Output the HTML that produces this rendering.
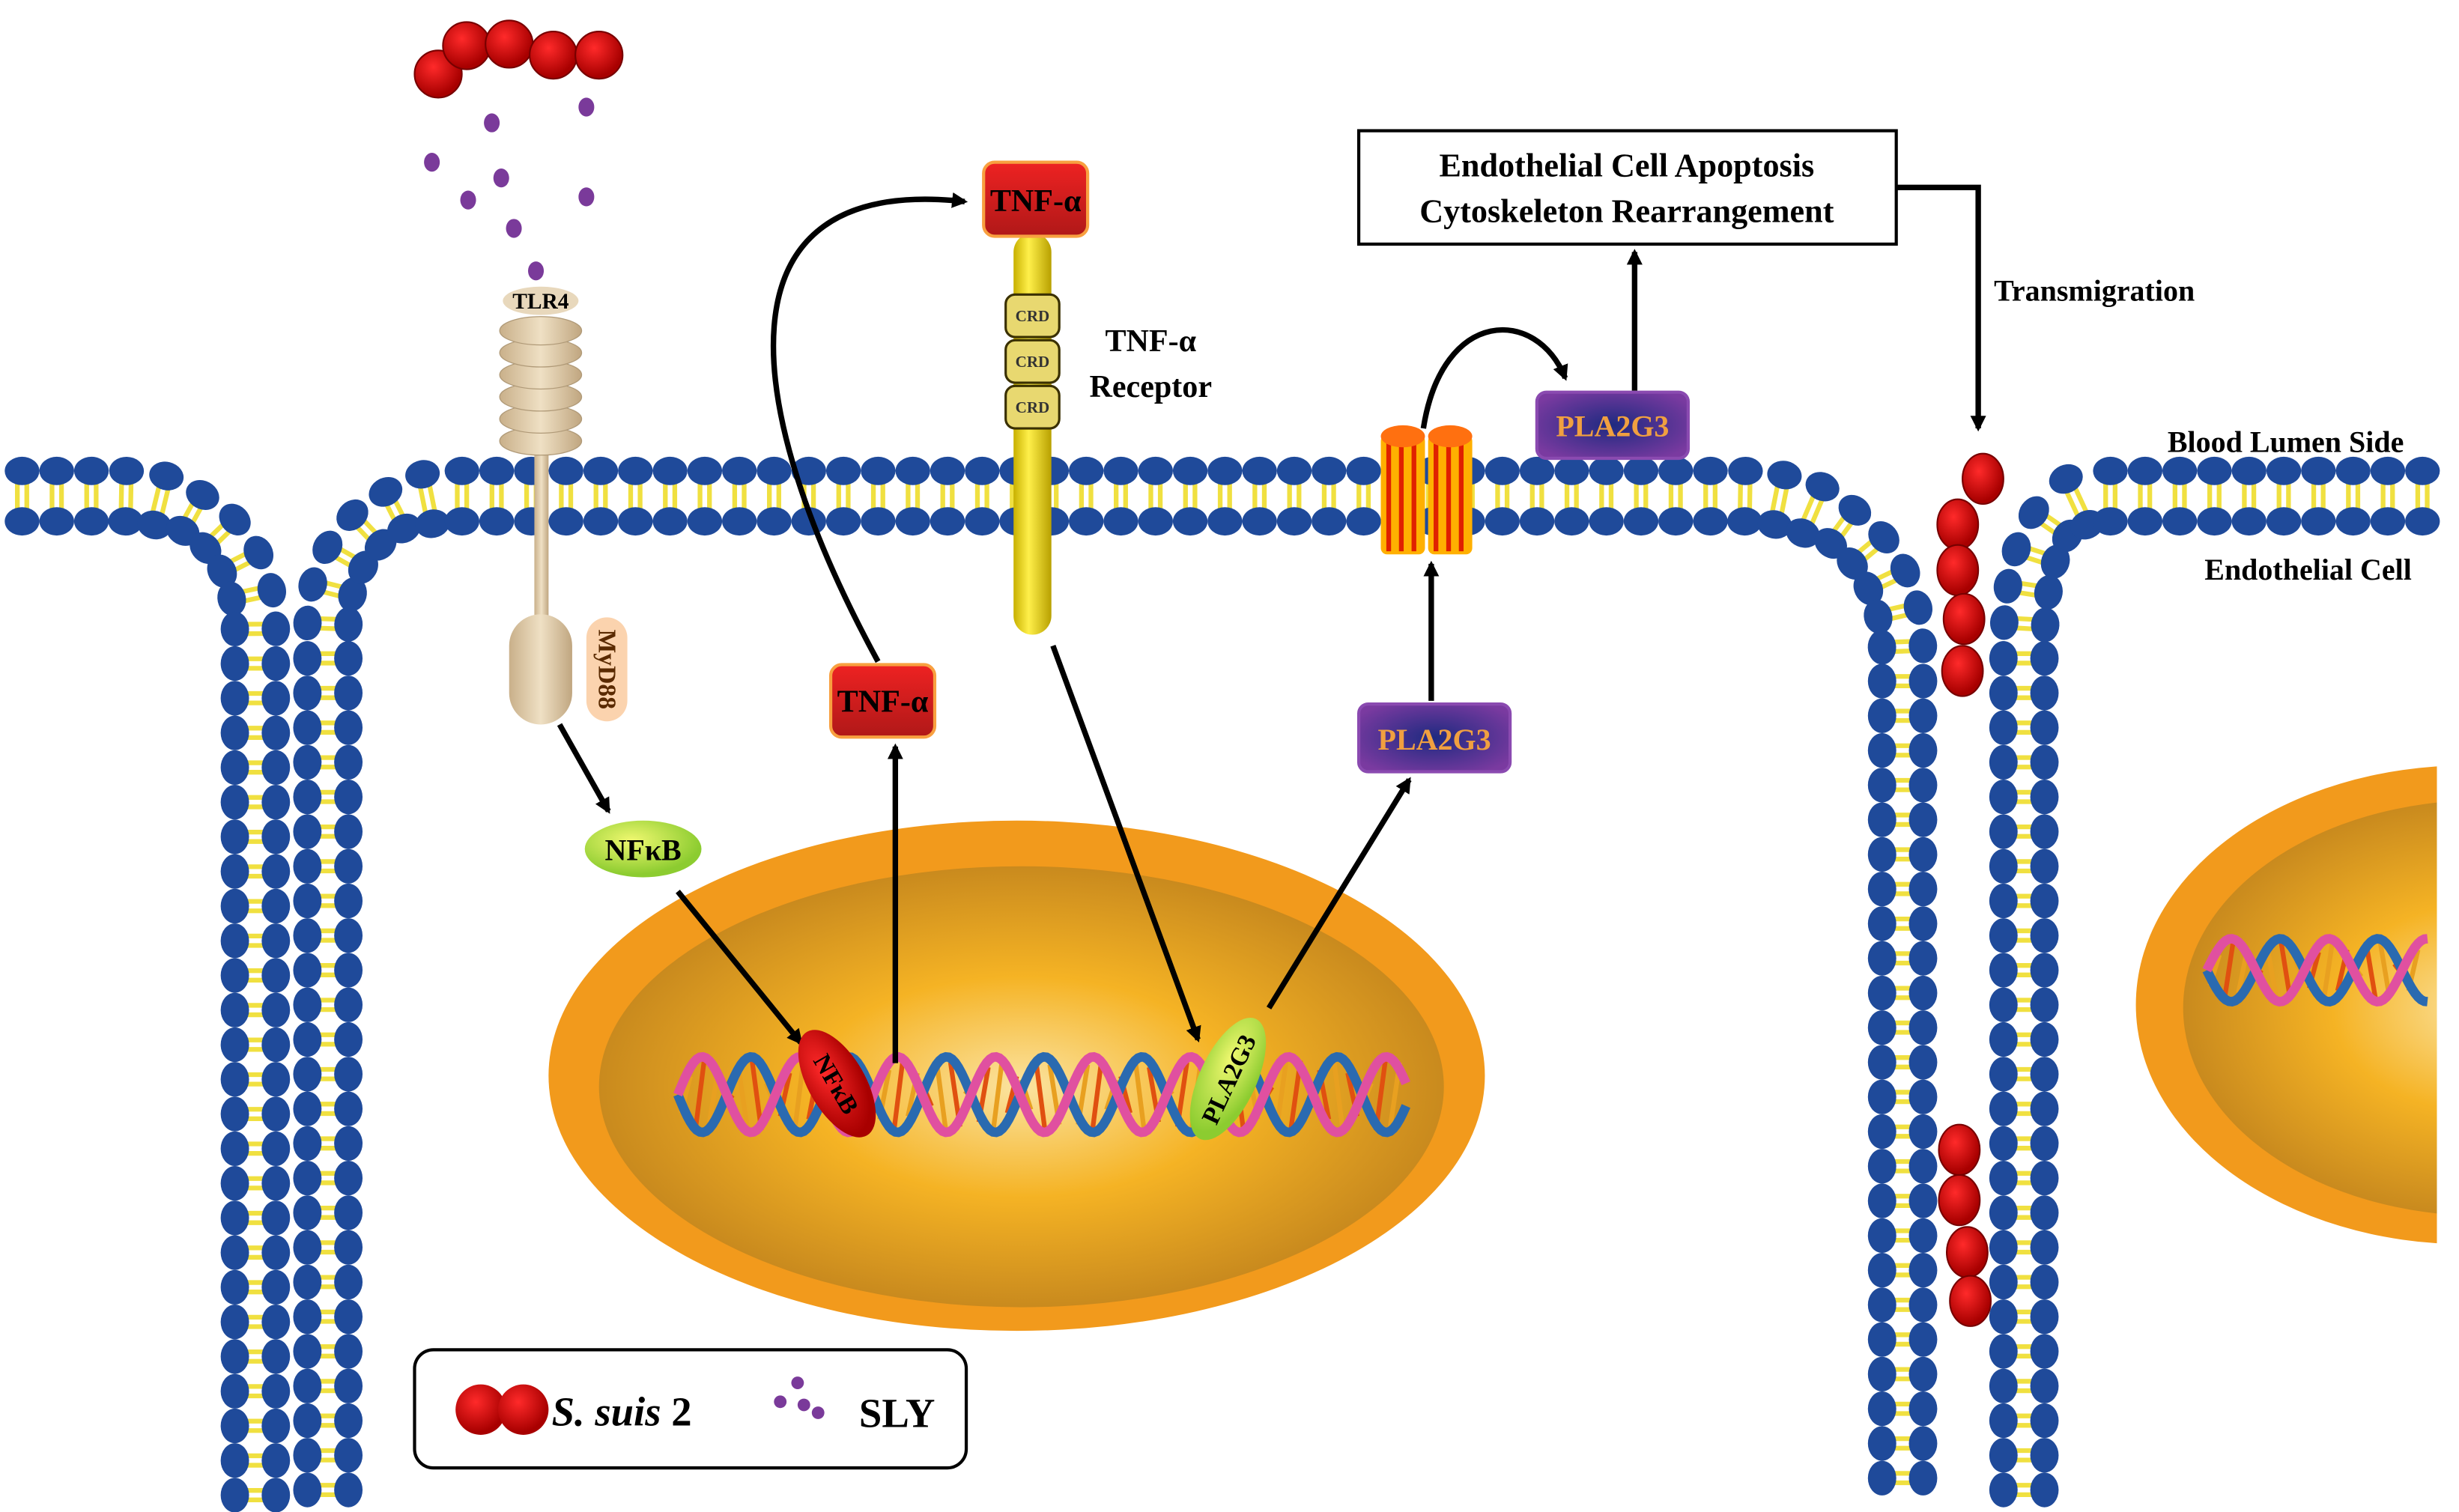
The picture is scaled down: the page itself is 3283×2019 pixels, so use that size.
<!DOCTYPE html>
<html><head><meta charset="utf-8">
<style>
html,body{margin:0;padding:0;background:#fff;}
svg{display:block;}
text{font-family:"Liberation Serif",serif;font-weight:bold;}
</style></head>
<body>
<svg id="s" width="3283" height="2019" viewBox="0 0 1560 960" preserveAspectRatio="none" xmlns="http://www.w3.org/2000/svg">
<defs>
<radialGradient id="nuc" cx="50%" cy="50%" r="50%">
<stop offset="0" stop-color="#fbe3a0"/><stop offset="0.5" stop-color="#f5b324"/><stop offset="1" stop-color="#c98a1e"/>
</radialGradient>
<radialGradient id="red" cx="40%" cy="35%" r="60%"><stop offset="0" stop-color="#ff2a2a"/><stop offset="1" stop-color="#a80000"/></radialGradient>
<radialGradient id="grn" cx="40%" cy="35%" r="60%"><stop offset="0" stop-color="#f0f870"/><stop offset="1" stop-color="#8ccc30"/></radialGradient>
<radialGradient id="pur" cx="50%" cy="50%" r="60%"><stop offset="0" stop-color="#1e2a80"/><stop offset="1" stop-color="#7a3aa0"/></radialGradient>
<linearGradient id="tnf" x1="0" y1="0" x2="0" y2="1"><stop offset="0" stop-color="#ee2222"/><stop offset="1" stop-color="#b01818"/></linearGradient>
<linearGradient id="rod" x1="0" y1="0" x2="1" y2="0"><stop offset="0" stop-color="#c8b000"/><stop offset="0.4" stop-color="#fff04a"/><stop offset="1" stop-color="#b8a000"/></linearGradient>
<linearGradient id="tan" x1="0" y1="0" x2="1" y2="0"><stop offset="0" stop-color="#c9b08a"/><stop offset="0.5" stop-color="#efe0c4"/><stop offset="1" stop-color="#c0a680"/></linearGradient>
<marker id="ah" markerWidth="10" markerHeight="10" refX="8" refY="5" orient="auto" markerUnits="userSpaceOnUse" viewBox="0 0 10 10"><path d="M0,0 L10,5 L0,10 Z" fill="#000"/></marker>
<clipPath id="cr"><rect x="0" y="0" width="1546" height="960"/></clipPath>
</defs>
<g id="mem"></g>

<!-- nuclei -->
<ellipse cx="645" cy="683" rx="297" ry="162" fill="#f29a1c"/>
<ellipse cx="648" cy="690" rx="268" ry="140" fill="url(#nuc)"/>
<g clip-path="url(#cr)">
<ellipse cx="1565" cy="638" rx="210" ry="152" fill="#f29a1c"/>
<ellipse cx="1575" cy="640" rx="190" ry="132" fill="url(#nuc)"/>
</g>
<g id="dna"></g>

<!-- bacteria top -->
<g fill="url(#red)" stroke="#700" stroke-width="1">
<circle cx="278" cy="47" r="15"/><circle cx="296" cy="29" r="15"/><circle cx="323" cy="28" r="15"/><circle cx="351" cy="35" r="15"/><circle cx="380" cy="35" r="15"/>
</g>
<g fill="#7a3a9a">
<ellipse cx="312" cy="78" rx="5" ry="6"/><ellipse cx="372" cy="68" rx="5" ry="6"/><ellipse cx="274" cy="103" rx="5" ry="6"/><ellipse cx="318" cy="113" rx="5" ry="6"/><ellipse cx="297" cy="127" rx="5" ry="6"/><ellipse cx="372" cy="125" rx="5" ry="6"/><ellipse cx="326" cy="145" rx="5" ry="6"/><ellipse cx="340" cy="172" rx="5" ry="6"/>
</g>

<!-- TLR4 -->
<rect x="339" y="280" width="9" height="125" fill="url(#tan)"/>
<g fill="url(#tan)" stroke="#b09a78" stroke-width="0.6">
<ellipse cx="343" cy="280" rx="26" ry="9"/><ellipse cx="343" cy="266" rx="26" ry="9"/><ellipse cx="343" cy="252" rx="26" ry="9"/><ellipse cx="343" cy="238" rx="26" ry="9"/><ellipse cx="343" cy="224" rx="26" ry="9"/><ellipse cx="343" cy="210" rx="26" ry="9"/>
</g>
<ellipse cx="343" cy="191" rx="24" ry="9" fill="#e8d8bc"/>
<text x="343" y="196" font-size="14" text-anchor="middle">TLR4</text>
<rect x="323" y="390" width="40" height="70" rx="20" fill="url(#tan)"/>
<rect x="372" y="392" width="26" height="66" rx="13" fill="#fbd3ae"/>
<text x="385" y="425" font-size="16" text-anchor="middle" transform="rotate(90 385 425)" dy="5" fill="#5a2a00">MyD88</text>

<!-- NFkB -->
<ellipse cx="408" cy="539" rx="37" ry="18" fill="url(#grn)"/>
<text x="408" y="546" font-size="19" text-anchor="middle">NFκB</text>

<!-- TNF receptor -->
<rect x="643" y="148" width="24" height="255" rx="12" fill="url(#rod)"/>
<g fill="#e8d870" stroke="#3a3000" stroke-width="1.5">
<rect x="638" y="187" width="34" height="27" rx="6"/><rect x="638" y="216" width="34" height="27" rx="6"/><rect x="638" y="245" width="34" height="27" rx="6"/>
</g>
<g font-size="10" text-anchor="middle" fill="#333" style="font-weight:normal"><text x="655" y="204">CRD</text><text x="655" y="233">CRD</text><text x="655" y="262">CRD</text></g>
<rect x="624" y="103" width="66" height="47" rx="7" fill="url(#tnf)" stroke="#f8a040" stroke-width="2"/>
<text x="657" y="134" font-size="20" text-anchor="middle">TNF-α</text>
<text x="730" y="223" font-size="20" text-anchor="middle">TNF-α</text>
<text x="730" y="252" font-size="20" text-anchor="middle">Receptor</text>

<rect x="527" y="422" width="66" height="46" rx="7" fill="url(#tnf)" stroke="#f8a040" stroke-width="2"/>
<text x="560" y="452" font-size="20" text-anchor="middle">TNF-α</text>

<!-- channel -->
<g>
<rect x="876" y="276" width="28" height="76" rx="4" fill="#ffb000"/>
<rect x="906" y="276" width="28" height="76" rx="4" fill="#ffb000"/>
<g stroke="#e02000" stroke-width="3">
<line x1="881" y1="280" x2="881" y2="350"/><line x1="889" y1="280" x2="889" y2="350"/><line x1="897" y1="280" x2="897" y2="350"/>
<line x1="911" y1="280" x2="911" y2="350"/><line x1="919" y1="280" x2="919" y2="350"/><line x1="927" y1="280" x2="927" y2="350"/>
</g>
<ellipse cx="890" cy="277" rx="14" ry="7" fill="#ff7010"/><ellipse cx="920" cy="277" rx="14" ry="7" fill="#ff7010"/>
</g>

<!-- PLA2G3 boxes -->
<rect x="862" y="447" width="96" height="43" rx="6" fill="url(#pur)" stroke="#8a4ab0" stroke-width="2"/>
<text x="910" y="476" font-size="19" text-anchor="middle" fill="#f0a040">PLA2G3</text>
<rect x="975" y="249" width="96" height="42" rx="6" fill="url(#pur)" stroke="#8a4ab0" stroke-width="2"/>
<text x="1023" y="277" font-size="19" text-anchor="middle" fill="#f0a040">PLA2G3</text>

<!-- result box -->
<rect x="862" y="83" width="341" height="72" fill="#fff" stroke="#000" stroke-width="2"/>
<text x="1032" y="112" font-size="21" text-anchor="middle">Endothelial Cell Apoptosis</text>
<text x="1032" y="141" font-size="21" text-anchor="middle">Cytoskeleton Rearrangement</text>
<text x="1265" y="191" font-size="19">Transmigration</text>
<text x="1525" y="287" font-size="19" text-anchor="end">Blood Lumen Side</text>
<text x="1530" y="368" font-size="19" text-anchor="end">Endothelial Cell</text>

<!-- arrows -->
<g stroke="#000" stroke-width="3.5" fill="none" marker-end="url(#ah)">
<line x1="355" y1="460" x2="386" y2="515"/>
<line x1="430" y1="566" x2="508" y2="662"/>
<line x1="568" y1="675" x2="568" y2="474"/>
<path d="M557 420 C 470 260, 450 110, 612 128"/>
<line x1="668" y1="410" x2="760" y2="660"/>
<line x1="805" y1="640" x2="894" y2="495"/>
<line x1="908" y1="445" x2="908" y2="358"/>
<path d="M903 272 C 915 195, 975 195, 993 240"/>
<line x1="1037" y1="248" x2="1037" y2="160"/>
<polyline points="1203,119 1255,119 1255,272"/>
</g>

<!-- transmigrating bacteria -->
<g fill="url(#red)" stroke="#700" stroke-width="1">
<ellipse cx="1258" cy="304" rx="13" ry="16"/><ellipse cx="1242" cy="333" rx="13" ry="16"/><ellipse cx="1242" cy="362" rx="13" ry="16"/><ellipse cx="1246" cy="393" rx="13" ry="16"/><ellipse cx="1245" cy="426" rx="13" ry="16"/>
<ellipse cx="1243" cy="730" rx="13" ry="16"/><ellipse cx="1243" cy="762" rx="13" ry="16"/><ellipse cx="1248" cy="795" rx="13" ry="16"/><ellipse cx="1250" cy="826" rx="13" ry="16"/>
</g>

<!-- DNA binders -->
<ellipse cx="531" cy="688" rx="18" ry="38" fill="url(#red)" transform="rotate(-30 531 688)"/>
<text x="531" y="694" font-size="16" text-anchor="middle" transform="rotate(60 531 688)">NFκB</text>
<ellipse cx="779" cy="685" rx="18" ry="42" fill="url(#grn)" transform="rotate(25 779 685)"/>
<text x="779" y="691" font-size="16" text-anchor="middle" transform="rotate(-65 779 685)">PLA2G3</text>

<!-- legend -->
<rect x="263" y="857" width="350" height="75" rx="12" fill="#fff" stroke="#000" stroke-width="2"/>
<circle cx="305" cy="895" r="16" fill="url(#red)"/><circle cx="332" cy="895" r="16" fill="url(#red)"/>
<text x="350" y="905" font-size="26"><tspan font-style="italic">S. suis</tspan> 2</text>
<g fill="#7a3a9a"><circle cx="506" cy="878" r="4"/><circle cx="495" cy="890" r="4"/><circle cx="510" cy="892" r="4"/><circle cx="519" cy="897" r="4"/></g>
<text x="545" y="906" font-size="26">SLY</text>
</svg>
<script>
(function(){
var NS="http://www.w3.org/2000/svg";
var mem=document.getElementById("mem");
var paths=[
"M10 315 L78 315 C125 315 162 345 162 400 L162 950",
"M208 950 L208 400 C208 345 245 315 290 315 L1105 315 C1160 315 1207 350 1207 415 L1207 950",
"M1284 950 L1284 415 C1284 350 1300 315 1335 315 L1548 315"
];
paths.forEach(function(d){
 var p=document.createElementNS(NS,"path");p.setAttribute("d",d);p.setAttribute("fill","none");
 mem.appendChild(p);
 var L=p.getTotalLength();
 var g=document.createElementNS(NS,"g");mem.appendChild(g);
 for(var s=4;s<L;s+=22){
  var a=p.getPointAtLength(Math.max(0,s-1)),b=p.getPointAtLength(Math.min(L,s+1)),c=p.getPointAtLength(s);
  var tx=b.x-a.x,ty=b.y-a.y,n=Math.hypot(tx,ty)||1;tx/=n;ty/=n;var nx=-ty,ny=tx;
  var off=Math.abs(tx)>0.9?16:13;
  for(var k=-1;k<=1;k+=2){
   var l=document.createElementNS(NS,"line");
   var ox=c.x+tx*3*k,oy=c.y+ty*3*k;
   l.setAttribute("x1",ox-nx*(off-7));l.setAttribute("y1",oy-ny*(off-7));l.setAttribute("x2",ox+nx*(off-7));l.setAttribute("y2",oy+ny*(off-7));
   l.setAttribute("stroke","#f0e040");l.setAttribute("stroke-width","3");g.appendChild(l);
  }
  var ang=Math.atan2(ty,tx)*180/Math.PI;
  for(var k=-1;k<=1;k+=2){
   var e=document.createElementNS(NS,"ellipse");
   var ex=c.x+nx*off*k,ey=c.y+ny*off*k;
   e.setAttribute("cx",ex);e.setAttribute("cy",ey);e.setAttribute("rx","11");e.setAttribute("ry","9");
   e.setAttribute("transform","rotate("+ang+" "+ex+" "+ey+")");
   e.setAttribute("fill","#1f4a9a");g.appendChild(e);
  }
 }
});
function helix(g,x0,x1,yc,amp,per){
 var s1="",s2="";
 for(var x=x0;x<=x1;x+=2){var t=(x-x0)/per*2*Math.PI;
  s1+=(x==x0?"M":"L")+x+" "+(yc+amp*Math.sin(t));
  s2+=(x==x0?"M":"L")+x+" "+(yc-amp*Math.sin(t));}
 for(var x=x0+5;x<x1;x+=9){var t=(x-x0)/per*2*Math.PI;
  var l=document.createElementNS(NS,"line");
  l.setAttribute("x1",x-3);l.setAttribute("x2",x+3);
  l.setAttribute("y1",yc+amp*Math.sin(t));l.setAttribute("y2",yc-amp*Math.sin(t));
  l.setAttribute("stroke",(Math.floor(x/9)%2)?"#e05010":"#e8a020");l.setAttribute("stroke-width","3");g.appendChild(l);}
 [[s1,"#2a6ab0"],[s2,"#e050a0"]].forEach(function(q){
  var p=document.createElementNS(NS,"path");p.setAttribute("d",q[0]);p.setAttribute("fill","none");
  p.setAttribute("stroke",q[1]);p.setAttribute("stroke-width","6");g.appendChild(p);});
}
var dna=document.getElementById("dna");
helix(dna,430,893,695,24,62);
helix(dna,1400,1540,616,20,62);
})();
</script>
</body></html>
